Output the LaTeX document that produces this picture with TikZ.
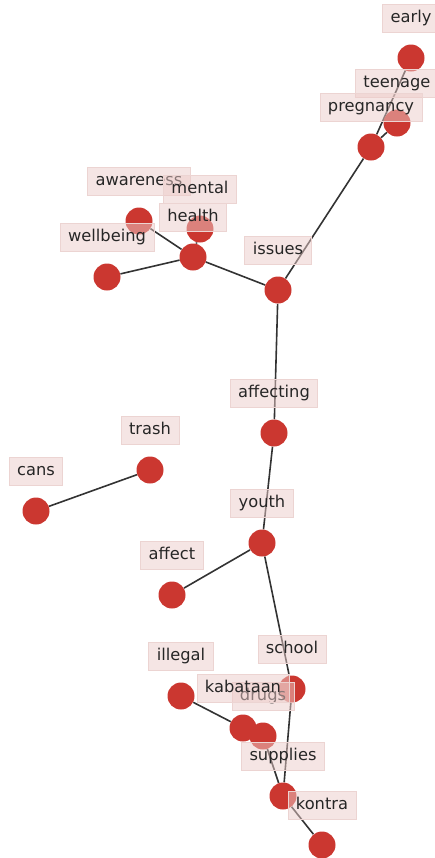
\documentclass[tikz,border=0pt]{standalone}
\usepackage{fontspec}
\setmainfont{DejaVu Sans}
\usetikzlibrary{positioning,backgrounds}
\definecolor{dotred}{RGB}{203,55,48}
\definecolor{tagfill}{RGB}{236,203,201}
\definecolor{tagline}{RGB}{236,212,210}
\definecolor{inkgray}{RGB}{38,38,38}
\definecolor{linkgray}{RGB}{51,51,51}
\tikzset{
	word/.style={circle, fill=dotred, inner sep=0pt, minimum size=20.25pt},
	tag/.style={fill=tagfill, fill opacity=0.5, text opacity=1, draw=tagline, line width=0.6pt,
		text=inkgray, font=\fontsize{12.2}{14}\selectfont, text height=9.3pt, text depth=2.9pt,
		inner xsep=6pt, inner ysep=4.3pt},
	link/.style={draw=linkgray, line width=1.2pt},
}

\begin{document}
\begin{tikzpicture}[x=0.75pt, y=-0.75pt]
		%%%%% START %%%%%
		\useasboundingbox (0, 0) rectangle (435, 858);
		
		\node[word] (early) at (411, 58) {};
		\node[word] (teenage) at (397, 123) {};
		\node[word] (pregnancy) at (371, 147) {};
		\node[word] (issues) at (278, 290) {};
		
		\node[word] (awareness) at (139, 221) {};
		\node[word] (mental) at (200, 229) {};
		\node[word] (health) at (193, 257) {};
		\node[word] (wellbeing) at (107, 277) {};
		
		\node[word] (affecting) at (274, 433) {};
		\node[word] (youth) at (262, 543) {};
		\node[word] (affect) at (172, 595) {};
		
		\node[word] (trash) at (150, 470) {};
		\node[word] (cans) at (36, 511) {};
		
		\node[word] (school) at (292, 689) {};
		\node[word] (illegal) at (181, 696) {};
		\node[word] (kabataan) at (243, 728) {};
		\node[word] (drugs) at (263, 736) {};
		\node[word] (supplies) at (283, 796) {};
		\node[word] (kontra) at (322, 845) {};
		
		\begin{scope}[on background layer]
			\draw[link] (early) -- (pregnancy);
			\draw[link] (teenage) -- (pregnancy);
			\draw[link] (pregnancy) -- (issues);
			\draw[link] (issues) -- (health);
			\draw[link] (health) -- (awareness);
			\draw[link] (health) -- (mental);
			\draw[link] (health) -- (wellbeing);
			\draw[link] (issues) -- (affecting);
			\draw[link] (affecting) -- (youth);
			\draw[link] (youth) -- (affect);
			\draw[link] (youth) -- (school);
			\draw[link] (trash) -- (cans);
			\draw[link] (school) -- (supplies);
			\draw[link] (illegal) -- (kabataan);
			\draw[link] (kabataan) -- (drugs);
			\draw[link] (drugs) -- (supplies);
			\draw[link] (supplies) -- (kontra);
		\end{scope}
		
		\node[tag, above=8.6pt of early] (early-t) {early};
		\node[tag, above=8.6pt of teenage] (teenage-t) {teenage};
		\node[tag, above=8.6pt of pregnancy] (pregnancy-t) {pregnancy};
		\node[tag, above=8.6pt of issues] (issues-t) {issues};
		\node[tag, above=8.6pt of awareness] (awareness-t) {awareness};
		\node[tag, above=8.6pt of mental] (mental-t) {mental};
		\node[tag, above=8.6pt of health] (health-t) {health};
		\node[tag, above=8.6pt of wellbeing] (wellbeing-t) {wellbeing};
		\node[tag, above=8.6pt of affecting] (affecting-t) {affecting};
		\node[tag, above=8.6pt of youth] (youth-t) {youth};
		\node[tag, above=8.6pt of affect] (affect-t) {affect};
		\node[tag, above=8.6pt of trash] (trash-t) {trash};
		\node[tag, above=8.6pt of cans] (cans-t) {cans};
		\node[tag, above=8.6pt of school] (school-t) {school};
		\node[tag, above=8.6pt of illegal] (illegal-t) {illegal};
		\node[tag, above=8.6pt of drugs] (drugs-t) {drugs};
		\node[tag, above=8.6pt of kabataan] (kabataan-t) {kabataan};
		\node[tag, above=8.6pt of supplies] (supplies-t) {supplies};
		\node[tag, above=8.6pt of kontra] (kontra-t) {kontra};
		
		%%%%% END %%%%%
\end{tikzpicture}
\end{document}
